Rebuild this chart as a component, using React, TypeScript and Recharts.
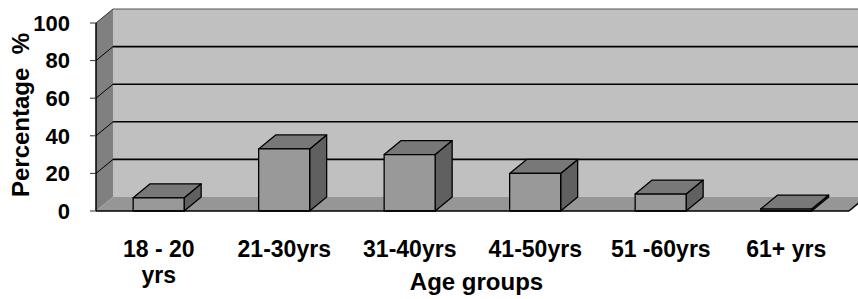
import React from 'react';
import { BarChart, Bar, XAxis, YAxis, CartesianGrid, ReferenceArea } from 'recharts';

const categories = ['18 - 20\nyrs', '21-30yrs', '31-40yrs', '41-50yrs', '51 -60yrs', '61+ yrs'];
const percentages = [7, 33, 30, 20, 9, 1];
const yTicks = [0, 20, 40, 60, 80, 100];
const edgeTicks = [0, 1, 2, 3, 4, 5, 6];

const data = categories.map((c, i) => ({ group: c, pct: percentages[i] }));

const DX = 17;
const DY = -14;
const FONT = '"Liberation Sans", Arial, sans-serif';

const Walls = (p: any) => {
  const { x, y, width: w, height: h } = p;
  const b = y + h;
  return (
    <g>
      <rect x={x + DX} y={y + DY} width={w} height={h} fill="#c0c0c0" />
      <polygon points={`${x},${b} ${x},${y} ${x + DX},${y + DY} ${x + DX},${b + DY}`} fill="#808080" />
      <polygon points={`${x},${b} ${x + w},${b} ${x + w + DX},${b + DY} ${x + DX},${b + DY}`} fill="#969696" />
      <line x1={x + w} y1={b} x2={x + w + DX} y2={b + DY} stroke="#000" strokeWidth={1.5} />
      <line x1={x} y1={y} x2={x + DX} y2={y + DY} stroke="#333" strokeWidth={1} />
      <line x1={x + DX} y1={y + DY} x2={x + w + DX} y2={y + DY} stroke="#555" strokeWidth={1} />
    </g>
  );
};

const GridLine = (p: any) => {
  const { x1, y1, x2, y2, y, height } = p;
  if (y1 >= y + height - 0.5 || y1 <= y + 0.5) return <g key={p.key} />;
  return (
    <g key={p.key}>
      <line x1={x1} y1={y1} x2={x1 + DX} y2={y1 + DY} stroke="#000" strokeWidth={1} />
      <line x1={x1 + DX} y1={y1 + DY} x2={x2 + DX} y2={y2 + DY} stroke="#000" strokeWidth={1.6} />
    </g>
  );
};

const Box = (p: any) => {
  const { x, y, width: w, height: h } = p;
  if (w == null || h == null) return null;
  return (
    <g stroke="#000" strokeWidth={1.3} strokeLinejoin="round">
      <polygon points={`${x + w},${y} ${x + w + DX},${y + DY} ${x + w + DX},${y + h + DY} ${x + w},${y + h}`} fill="#606060" />
      <polygon points={`${x},${y} ${x + DX},${y + DY} ${x + w + DX},${y + DY} ${x + w},${y}`} fill="#787878" />
      <rect x={x} y={y} width={w} height={h} fill="#999999" />
    </g>
  );
};

const XTick = (p: any) => {
  const { x, y, payload } = p;
  const lines = String(payload.value).split('\n');
  return (
    <text x={x} y={y} textAnchor="middle" fontFamily={FONT} fontWeight="bold" fontSize={23} fill="#000">
      {lines.map((l, i) => (
        <tspan key={i} x={x} dy={i === 0 ? 46 : 26}>{l}</tspan>
      ))}
    </text>
  );
};

const NoTick = () => null;

const YTitle = (p: any) => {
  const vb = p.viewBox || { x: 0, y: 23, width: 96, height: 188 };
  const cx = vb.x + 29;
  const cy = vb.y + vb.height / 2 - 2;
  return (
    <text x={cx} y={cy} transform={`rotate(-90 ${cx} ${cy})`} textAnchor="middle" fontFamily={FONT}
      fontWeight="bold" fontSize={24} fill="#000" style={{ whiteSpace: 'pre' }}>
      {'Percentage  %'}
    </text>
  );
};

const XTitle = (p: any) => {
  const vb = p.viewBox || { x: 96, y: 211, width: 753, height: 88 };
  const cx = vb.x + vb.width / 2 + 4;
  const cy = vb.y + 79;
  return (
    <text x={cx} y={cy} textAnchor="middle" fontFamily={FONT} fontWeight="bold" fontSize={24} fill="#000">
      Age groups
    </text>
  );
};

export default function App() {
  return (
    <div style={{ position: 'absolute', left: 0, top: 0, width: 858, height: 299, background: '#fff' }}>
      <BarChart width={858} height={299} data={data} margin={{ top: 23, right: 9, left: 0, bottom: 0 }}
        barCategoryGap="29.6%">
        <ReferenceArea y1={0} y2={100} shape={Walls} ifOverflow="visible" zIndex={-200} />
        <CartesianGrid vertical={false} horizontal={GridLine} />
        <XAxis xAxisId="edges" type="number" domain={[0, 6]} ticks={edgeTicks} height={0}
          axisLine={false} tick={NoTick} tickLine={{ stroke: '#333', strokeWidth: 1 }} tickSize={7} />
        <XAxis dataKey="group" height={88} tickLine={false} tickSize={0} tickMargin={0}
          axisLine={{ stroke: '#000', strokeWidth: 1.5 }} tick={XTick} interval={0}
          label={{ content: XTitle }} />
        <YAxis domain={[0, 100]} ticks={yTicks} width={96} tickSize={6} tickMargin={20}
          axisLine={{ stroke: '#000', strokeWidth: 1.5 }} tickLine={{ stroke: '#333', strokeWidth: 1 }}
          tick={{ fontFamily: FONT, fontWeight: 'bold', fontSize: 22, fill: '#000' }}
          label={{ content: YTitle }} />
        <Bar dataKey="pct" shape={Box} isAnimationActive={false} />
      </BarChart>
    </div>
  );
}
